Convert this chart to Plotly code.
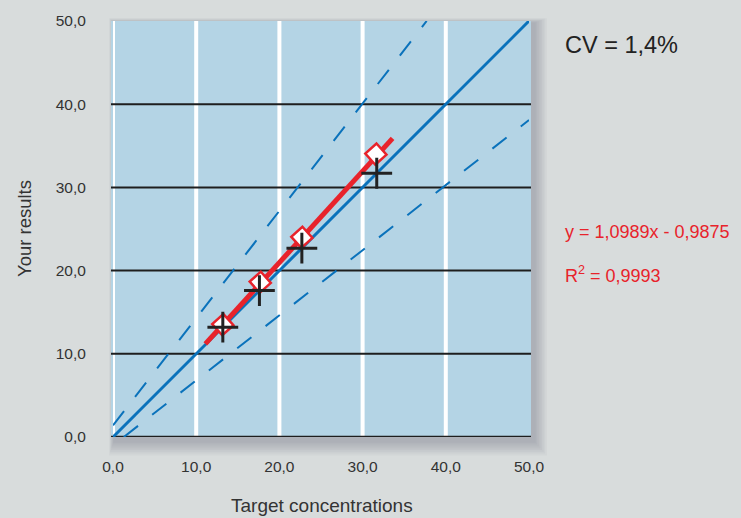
import plotly.graph_objects as go

# ---- data ----
target_x = [13.2, 17.6, 22.7, 31.7]
target_y = [13.2, 17.6, 22.7, 31.7]          # crosses (on identity line)
result_x = [13.2, 17.7, 22.7, 31.6]
result_y = [13.5, 18.6, 24.0, 34.0]          # diamonds
fit_x = [11.1, 33.6]
fit_y = [11.2, 35.9]
ident_x = [0, 50]
ident_y = [0, 50]
upper_x = [0, 37.7]
upper_y = [1.4, 50]
lower_x = [1.3, 50]
lower_y = [0, 38.1]
tick_vals = [0, 10, 20, 30, 40, 50]
tick_text = ["0,0", "10,0", "20,0", "30,0", "40,0", "50,0"]
vgrid = [0, 10, 20, 30, 40]
hgrid = [0, 10, 20, 30, 40]

BLUE = "#0a72bb"
RED = "#e8232b"
PAPER = "#d8dcdc"
PLOTBG = "#b4d4e5"
FONT = "Liberation Sans, Arial, sans-serif"

fig = go.Figure()
fig.add_trace(go.Scatter(x=upper_x, y=upper_y, mode="lines",
                         line=dict(color=BLUE, width=2, dash="18px,18px"), hoverinfo="skip"))
fig.add_trace(go.Scatter(x=lower_x, y=lower_y, mode="lines",
                         line=dict(color=BLUE, width=2, dash="18px,18px"), hoverinfo="skip"))
fig.add_trace(go.Scatter(x=ident_x, y=ident_y, mode="lines",
                         line=dict(color=BLUE, width=3)))
fig.add_trace(go.Scatter(x=fit_x, y=fit_y, mode="lines",
                         line=dict(color=RED, width=5)))
fig.add_trace(go.Scatter(x=result_x, y=result_y, mode="markers",
                         marker=dict(symbol="square", angle=-42, size=15, color="white",
                                     line=dict(color=RED, width=2.5))))
fig.add_trace(go.Scatter(x=target_x, y=target_y, mode="markers",
                         marker=dict(symbol="cross-thin", size=22,
                                     line=dict(color="#222222", width=3))))

shapes = []
# soft drop shadow
for k in range(1, 9):
    shapes.append(dict(type="rect", xref="paper", yref="paper", layer="below",
                       x0=(111 - k * 0.6 + 3 - 113) / 416, x1=(531 + k * 1.6 + 3 - 113) / 416,
                       y0=(437 - (437 + k * 1.8 + 4)) / 416, y1=(437 - (21 - k * 0.6 + 2)) / 416,
                       line=dict(width=0), fillcolor="rgba(60,70,75,0.035)"))
# blue plot background
shapes.append(dict(type="rect", xref="paper", yref="paper", layer="below",
                   x0=(111 - 113) / 416, x1=(531 - 113) / 416, y0=0, y1=(437 - 21) / 416,
                   line=dict(width=0), fillcolor=PLOTBG))
for v in vgrid:
    shapes.append(dict(type="line", xref="x", yref="paper", layer="below",
                       x0=v, x1=v, y0=0, y1=1, line=dict(color="white", width=4)))
for h in hgrid:
    shapes.append(dict(type="line", xref="paper", yref="y", layer="below",
                       x0=(111 - 113) / 416, x1=(531 - 113) / 416, y0=h, y1=h,
                       line=dict(color="#1e1e1e", width=2.5 if h == 0 else 2)))

fig.update_layout(
    width=741, height=518,
    margin=dict(l=113, r=212, t=21, b=81),
    paper_bgcolor=PAPER, plot_bgcolor="rgba(0,0,0,0)",
    showlegend=False,
    font=dict(family=FONT, color="#333333", size=15),
    shapes=shapes,
    xaxis=dict(range=[0, 50], tickvals=tick_vals, ticktext=tick_text, showgrid=False,
               zeroline=False, showline=False, ticks="outside", ticklen=0,
               ticklabelstandoff=15, tickfont=dict(size=15.5, color="#333333")),
    yaxis=dict(range=[0, 50], tickvals=tick_vals, ticktext=tick_text, showgrid=False,
               zeroline=False, showline=False, ticks="outside", ticklen=0,
               ticklabelstandoff=23, tickfont=dict(size=15.5, color="#333333")),
    annotations=[
        dict(text="Your results", xref="paper", yref="paper", x=(24 - 113) / 416, y=0.5,
             textangle=-90, showarrow=False, font=dict(size=18.5, color="#333333"),
             xanchor="center", yanchor="middle"),
        dict(text="Target concentrations", xref="paper", yref="paper",
             x=(322 - 113) / 416, y=(437 - 505) / 416, showarrow=False,
             font=dict(size=19, color="#333333"), xanchor="center", yanchor="middle"),
        dict(text="CV = 1,4%", xref="paper", yref="paper", x=(563 - 113) / 416,
             y=(437 - 45) / 416, showarrow=False, font=dict(size=23.5, color="#222222"),
             xanchor="left", yanchor="middle"),
        dict(text="y = 1,0989x - 0,9875", xref="paper", yref="paper", x=(563 - 113) / 416,
             y=(437 - 232) / 416, showarrow=False, font=dict(size=18, color=RED),
             xanchor="left", yanchor="middle"),
        dict(text="R<sup>2</sup> = 0,9993", xref="paper", yref="paper", x=(563 - 113) / 416,
             y=(437 - 274) / 416, showarrow=False, font=dict(size=18, color=RED),
             xanchor="left", yanchor="middle"),
    ],
)

fig.write_html("out.html", config={"displayModeBar": False},
               post_script="document.body.style.margin='0';")
